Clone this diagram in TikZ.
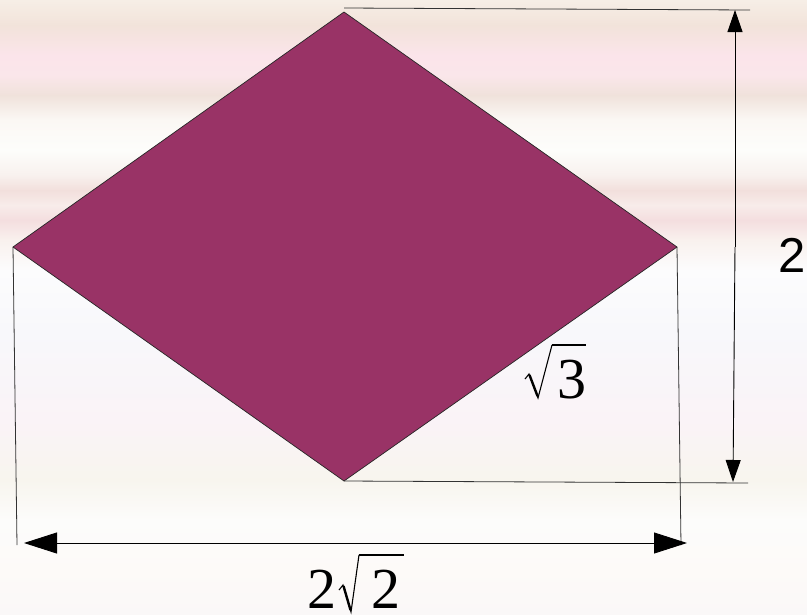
\documentclass[tikz,border=0pt]{standalone}
\usepackage{fontspec}
\setmainfont{Liberation Serif}
\newfontfamily\arialfont{Liberation Sans}
\usetikzlibrary{arrows.meta}
\definecolor{rhomb}{HTML}{993366}
\begin{document}
\begin{tikzpicture}[x=1pt,y=-1pt,
  dimline/.style={draw=black,line width=0.9pt},
  extline/.style={draw=black!80,line width=0.8pt},
  vtip/.style={-{Triangle[length=22pt,width=15pt]}},
  htip/.style={-{Triangle[length=33pt,width=21pt]}},
  digit/.style={inner sep=0pt,anchor=base,font=\fontsize{58}{58}\selectfont},
  radthin/.style={line width=1.1pt,line join=miter},
  radthick/.style={line width=2.4pt}]
\useasboundingbox (0,0) rectangle (807,614);
% striped background
\foreach \ya/\yb/\ca/\cb in {
  0/25/F6EEE6/F2E3DA, 25/55/F2E3DA/FBE4EA, 55/75/FBE4EA/FAE6EA,
  75/95/FAE6EA/F0E2DB, 95/120/F0E2DB/FBF8F4, 120/150/FBF8F4/FDFDFB,
  150/175/FDFDFB/F8F1EE, 175/190/F8F1EE/F2DFDC, 190/205/F2DFDC/F8ECEA,
  205/220/F8ECEA/F4DEDF, 220/240/F4DEDF/F9F1EE, 240/270/F9F1EE/FCFCFD,
  270/330/FCFCFD/F8F8FB, 330/420/F8F8FB/FAF3F7, 420/480/FAF3F7/F8F5EE,
  480/520/F8F5EE/FCFCFB, 520/570/FCFCFB/FDFAF8, 570/614/FDFAF8/FAF8F8}{
  \definecolor{ctop}{HTML}{\ca}\definecolor{cbot}{HTML}{\cb}
  \shade[top color=ctop,bottom color=cbot] (0,\ya) rectangle (807,\yb+0.5);
}
% rhombus vertices
\coordinate (T) at (344,12);
\coordinate (L) at (13,247);
\coordinate (R) at (677,247);
\coordinate (B) at (344,481);
\fill[rhomb,draw=black!85,line width=0.7pt] (T) -- (R) -- (B) -- (L) -- cycle;
% extension lines
\coordinate (Te) at (750,10);
\coordinate (Be) at (748,483);
\coordinate (Ld) at (17,545);
\coordinate (Rd) at (681,545);
\draw[extline] (T) ++(0,-4) -- (Te);
\draw[extline] (B) -- (Be);
\draw[extline] (L) -- (Ld);
\draw[extline] (R) -- (Rd);
% dimension arrows
\coordinate (Va) at (735,247);
\coordinate (Vt) at (735,10);
\coordinate (Vb) at (733,482);
\draw[dimline,vtip] (Va) -- (Vt);
\draw[dimline,vtip] (Va) -- (Vb);
\coordinate (Hm) at (350,543);
\coordinate (Hl) at (24,543);
\coordinate (Hr) at (687,543);
\draw[dimline,htip] (Hm) -- (Hl);
\draw[dimline,htip] (Hm) -- (Hr);
% labels
\node[inner sep=0pt,font=\arialfont\fontsize{49}{49}\selectfont] (h) at (792,255) {2};
% sqrt 3
\node[digit] (three) at (571.5,398) {3};
\draw[radthin] (525,379) -- (529,374) -- (538,398) -- (552,345);
\draw[radthick] (529.5,375) -- (537.5,396);
\draw[radthick] (552,345) -- (586,345);
% 2 sqrt 2
\node[digit] (twoa) at (321.5,608) {2};
\node[digit] (twob) at (386,608) {2};
\draw[radthin] (339,590) -- (343,585) -- (351,612) -- (359,555);
\draw[radthick] (343.5,586) -- (350.5,610);
\draw[radthick] (359,555) -- (404,555);
\end{tikzpicture}
\end{document}
